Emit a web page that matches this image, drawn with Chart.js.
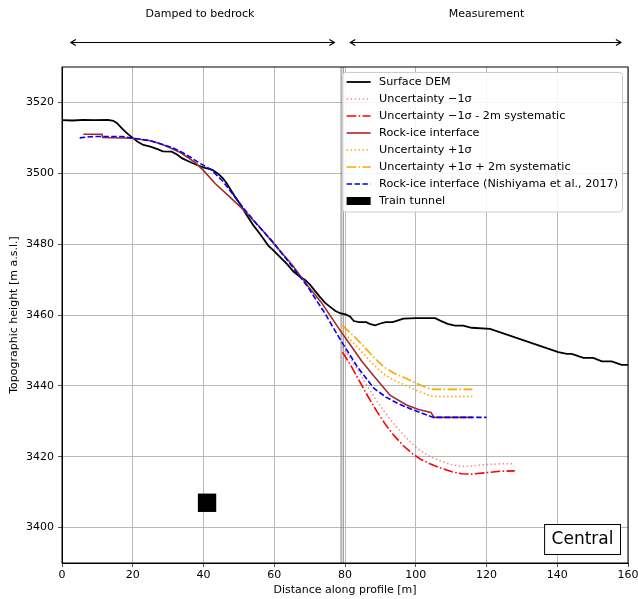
<!DOCTYPE html>
<html>
<head>
<meta charset="utf-8">
<script src="https://cdn.jsdelivr.net/npm/chart.js@4.4.0/dist/chart.umd.min.js"></script>
<style>
  body { margin: 0; background: #fff; overflow: hidden; }
  #wrap { width: 641px; height: 599px; position: relative; }
</style>
</head>
<body>
<div id="wrap"><canvas id="profileChart"></canvas></div>
<script>
const xTicks = [0, 20, 40, 60, 80, 100, 120, 140, 160];
const yTicks = [3400, 3420, 3440, 3460, 3480, 3500, 3520];

// Surface DEM
const demX = [0, 3, 6, 9, 13, 14.5, 15.5, 17, 18.5, 20, 21.5, 23, 25, 27, 28.5, 31, 32.5, 34, 36.2, 38.5, 40.4, 42.5, 44.2, 45.5, 46.6, 48.5, 50.3, 52.2, 54.1, 55.5, 56.9, 58.3, 59.7, 61.5, 63.5, 65.5, 67.3, 68.8, 70.1, 71.5, 72.9, 74.3, 75.8, 77.2, 78.6, 80.3, 81.4, 82.5, 84, 86, 87.2, 88.5, 90, 91.5, 93.5, 95, 96.5, 100, 105.5, 106.9, 109, 111.1, 113.4, 115.8, 121, 140.3, 142.7, 144.1, 147.4, 150.2, 152.6, 155.4, 158.2, 160];
const demY = [3515, 3514.9, 3515.1, 3515, 3515.1, 3514.8, 3514.2, 3512.6, 3511.2, 3510, 3508.8, 3508, 3507.5, 3506.8, 3506.2, 3506.1, 3505.3, 3504.2, 3503.2, 3502.2, 3501.5, 3501, 3499.8, 3498.6, 3497.1, 3494, 3491.4, 3488.2, 3485.3, 3483.5, 3481.6, 3479.6, 3478.3, 3476.5, 3474.5, 3472.2, 3470.8, 3469.8, 3468.6, 3466.8, 3465.1, 3463.5, 3462.3, 3461.2, 3460.5, 3460.1, 3459.6, 3458.3, 3458, 3458, 3457.4, 3457.1, 3457.6, 3458, 3458, 3458.5, 3459, 3459.1, 3459.1, 3458.4, 3457.5, 3457, 3457, 3456.4, 3456.1, 3449.5, 3449, 3449, 3447.9, 3447.9, 3446.9, 3446.9, 3445.9, 3445.9];

// Uncertainty -1 sigma
const minusX = [79.3, 81.5, 84, 86.5, 89, 91.5, 94, 96.5, 99, 101.5, 104, 107, 110, 113, 116, 120, 124, 128];
const minusY = [3451, 3447.8, 3443.8, 3439.6, 3435.7, 3432.2, 3429, 3426.2, 3423.6, 3421.6, 3420.1, 3418.8, 3417.8, 3417.2, 3417.4, 3417.8, 3418, 3418];

// Uncertainty -1 sigma - 2m systematic
const minusSysX = [79.3, 81.5, 84, 86.5, 89, 91.5, 94, 96.5, 99, 101.5, 104, 107, 110, 113, 116, 120, 124, 128];
const minusSysY = [3449.5, 3446, 3441.5, 3437, 3432.8, 3429, 3425.8, 3423.1, 3420.9, 3419.2, 3418, 3416.8, 3415.8, 3415.2, 3415.1, 3415.5, 3415.9, 3416];

// Rock-ice interface
const rockX = [6, 11.3, 11.5, 20, 25, 28.4, 31, 33.6, 37.6, 39.9, 43.3, 46.8, 51.4, 56, 60.6, 65.2, 69.8, 73.2, 76.1, 79, 81.3, 84.7, 88.2, 92.8, 97.4, 100.8, 104.3, 105.2, 116];
const rockY = [3511, 3511, 3510.1, 3509.9, 3509.2, 3508.1, 3507, 3505.8, 3503.1, 3500.9, 3497.1, 3493.9, 3489.6, 3484.7, 3479.3, 3474, 3467.8, 3463.7, 3459.4, 3455.1, 3451.9, 3447, 3442.7, 3437.3, 3434.6, 3433.3, 3432.5, 3431.1, 3431.1];

// Uncertainty +1 sigma
const plusX = [79.3, 82, 85, 88, 91, 94, 97, 100, 103, 105, 116];
const plusY = [3455.5, 3452.5, 3449.3, 3446, 3443.3, 3441.5, 3440.2, 3438.8, 3437.6, 3437, 3437];

// Uncertainty +1 sigma + 2m systematic
const plusSysX = [79.3, 82, 85, 88, 91, 94, 97, 100, 103, 105, 116];
const plusSysY = [3457, 3454.5, 3451.5, 3448.2, 3445.3, 3443.5, 3442.2, 3440.8, 3439.5, 3439, 3439];

// Rock-ice interface (Nishiyama et al., 2017)
const nishiX = [5, 8, 10, 17, 20, 25, 30.7, 33.6, 36.2, 39, 42.2, 45.6, 50.3, 55, 59.7, 64.5, 69.2, 74, 79, 83.6, 88.2, 91.6, 95, 99, 102, 105, 120];
const nishiY = [3510, 3510.3, 3510.4, 3510.4, 3509.9, 3509.2, 3507.4, 3506.1, 3504.6, 3502.8, 3501, 3497.6, 3491.4, 3485.7, 3480.5, 3474.4, 3468.3, 3461, 3452.5, 3445.2, 3439.3, 3436.8, 3435, 3433.3, 3432.2, 3431.1, 3431.1];

// Train tunnel
const tunnelX = [41];
const tunnelY = [3407];

const boundaryX = [78.9, 79.5];
const sectionLabels = ["Damped to bedrock", "Measurement"];
const sectionFrom = [2.5, 81.5];
const sectionTo = [77, 158];
const sectionTextX = [39, 120];
const panelName = "Central";

const FONT = "'DejaVu Sans', sans-serif";
const zip = (xs, ys) => xs.map((v, i) => ({ x: v, y: ys[i] }));

const DOT = [1.5, 2.5];
const DASH = [5.5, 2.4];
const DASHDOT = [9.6, 2.4, 1.5, 2.4];

const series = [
  { label: "Surface DEM", data: zip(demX, demY), borderColor: "#000000", borderDash: [], borderWidth: 1.8 },
  { label: "Uncertainty \u22121\u03c3", data: zip(minusX, minusY), borderColor: "rgba(255,0,0,0.45)", borderDash: DOT, borderWidth: 1.6 },
  { label: "Uncertainty \u22121\u03c3 - 2m systematic", data: zip(minusSysX, minusSysY), borderColor: "#ff0000", borderDash: DASHDOT, borderWidth: 1.6 },
  { label: "Rock-ice interface", data: zip(rockX, rockY), borderColor: "#a52a2a", borderDash: [], borderWidth: 1.6 },
  { label: "Uncertainty +1\u03c3", data: zip(plusX, plusY), borderColor: "#ffa500", borderDash: DOT, borderWidth: 1.6 },
  { label: "Uncertainty +1\u03c3 + 2m systematic", data: zip(plusSysX, plusSysY), borderColor: "#ffa500", borderDash: DASHDOT, borderWidth: 1.6 },
  { label: "Rock-ice interface (Nishiyama et al., 2017)", data: zip(nishiX, nishiY), borderColor: "#0000ff", borderDash: DASH, borderWidth: 1.6 },
];

const datasets = series.map((s, i) => ({
  type: "line",
  label: s.label,
  data: s.data,
  borderColor: s.borderColor,
  borderDash: s.borderDash,
  borderWidth: s.borderWidth,
  pointRadius: 0,
  tension: 0,
  fill: false,
  order: -i,
}));

datasets.push({
  type: "scatter",
  label: "Train tunnel",
  data: zip(tunnelX, tunnelY),
  pointStyle: "rect",
  pointRadius: 13,
  backgroundColor: "#000000",
  borderColor: "#000000",
  borderWidth: 0,
  order: -datasets.length,
});

const arrowLine = (ctx, x1, x2, y) => {
  ctx.beginPath();
  ctx.moveTo(x1, y);
  ctx.lineTo(x2, y);
  ctx.stroke();
  ctx.beginPath();
  ctx.moveTo(x1 + 5, y - 3); ctx.lineTo(x1, y); ctx.lineTo(x1 + 5, y + 3);
  ctx.moveTo(x2 - 5, y - 3); ctx.lineTo(x2, y); ctx.lineTo(x2 - 5, y + 3);
  ctx.stroke();
};

const extras = {
  id: "extras",
  beforeDatasetsDraw(chart) {
    const { ctx, chartArea, scales } = chart;
    ctx.save();
    ctx.strokeStyle = "#808080";
    ctx.lineWidth = 1;
    boundaryX.forEach((v) => {
      const px = scales.x.getPixelForValue(v);
      ctx.beginPath();
      ctx.moveTo(px, chartArea.top);
      ctx.lineTo(px, chartArea.bottom);
      ctx.stroke();
    });
    ctx.restore();
  },
  afterDatasetsDraw(chart) {
    const { ctx, chartArea } = chart;
    ctx.save();

    // legend
    ctx.font = "11.2px " + FONT;
    const ds = chart.data.datasets;
    const textW = Math.max(...ds.map((d) => ctx.measureText(d.label).width));
    const boxW = 4 + 24 + 8.5 + textW + 4.5;
    const rowH = 17;
    const boxH = rowH * ds.length + 3.5;
    const bx = chartArea.right - 5.5 - boxW;
    const by = chartArea.top + 5.5;
    ctx.fillStyle = "rgba(255,255,255,0.85)";
    ctx.strokeStyle = "#cccccc";
    ctx.lineWidth = 1;
    ctx.beginPath();
    ctx.roundRect(bx, by, boxW, boxH, 3);
    ctx.fill();
    ctx.stroke();
    ds.forEach((d, i) => {
      const cy = by + 9.5 + i * rowH;
      const lx = bx + 4;
      if (d.type === "scatter") {
        ctx.fillStyle = d.backgroundColor;
        ctx.fillRect(lx, cy - 4, 24, 8);
      } else {
        ctx.strokeStyle = d.borderColor;
        ctx.lineWidth = d.borderWidth;
        ctx.setLineDash(d.borderDash);
        ctx.beginPath();
        ctx.moveTo(lx, cy);
        ctx.lineTo(lx + 24, cy);
        ctx.stroke();
        ctx.setLineDash([]);
      }
      ctx.fillStyle = "#000";
      ctx.textAlign = "left";
      ctx.textBaseline = "middle";
      ctx.fillText(d.label, lx + 32.5, cy + 0.5);
    });

    // panel name box
    ctx.font = "17px " + FONT;
    const tw = ctx.measureText(panelName).width;
    const pw = tw + 14, ph = 30;
    const px = chartArea.right - 8 - pw;
    const py = chartArea.bottom - 9 - ph;
    ctx.fillStyle = "#fff";
    ctx.fillRect(px, py, pw, ph);
    ctx.strokeStyle = "#000";
    ctx.lineWidth = 1;
    ctx.strokeRect(px + 0.5, py + 0.5, pw, ph);
    ctx.fillStyle = "#000";
    ctx.textAlign = "center";
    ctx.textBaseline = "middle";
    ctx.fillText(panelName, px + pw / 2 + 0.5, py + ph / 2 + 1);

    // frame
    ctx.strokeStyle = "#000";
    ctx.lineWidth = 1;
    ctx.strokeRect(chartArea.left, chartArea.top, chartArea.right - chartArea.left, chartArea.bottom - chartArea.top);
    ctx.restore();
  },
  afterDraw(chart) {
    const { ctx, scales } = chart;
    ctx.save();
    ctx.strokeStyle = "#000";
    ctx.fillStyle = "#000";
    ctx.lineWidth = 1.2;
    ctx.font = "11px " + FONT;
    ctx.textAlign = "center";
    ctx.textBaseline = "middle";
    sectionLabels.forEach((t, i) => {
      arrowLine(ctx, scales.x.getPixelForValue(sectionFrom[i]), scales.x.getPixelForValue(sectionTo[i]), 42.5);
      ctx.fillText(t, scales.x.getPixelForValue(sectionTextX[i]), 14);
    });
    ctx.restore();
  },
};

const ctx = document.getElementById("profileChart").getContext("2d");
const profileChart = new Chart(ctx, {
  data: { datasets: datasets },
  plugins: [extras],
  options: {
    responsive: true,
    maintainAspectRatio: false,
    animation: false,
    layout: { padding: { top: 67, right: 10, left: 0, bottom: 0 } },
    plugins: {
      legend: { display: false },
      tooltip: { enabled: false },
    },
    scales: {
      x: {
        type: "linear",
        min: 0,
        max: 160,
        afterBuildTicks: (scale) => { scale.ticks = xTicks.map((v) => ({ value: v })); },
        afterFit: (scale) => { scale.height = 36; },
        ticks: { color: "#000", font: { family: FONT, size: 11 }, padding: 2, maxRotation: 0, callback: (v) => String(v) },
        grid: { color: "#b8b8b8", lineWidth: 1, tickLength: 4, tickColor: "#555" },
        border: { display: true, color: "#000", width: 1 },
        title: { display: true, text: "Distance along profile [m]", color: "#000", font: { family: FONT, size: 11 }, padding: { top: 0, bottom: 2 } },
      },
      y: {
        type: "linear",
        min: 3390,
        max: 3530,
        afterBuildTicks: (scale) => { scale.ticks = yTicks.map((v) => ({ value: v })); },
        afterFit: (scale) => { scale.width = 62; },
        ticks: { color: "#000", font: { family: FONT, size: 11 }, padding: 4, callback: (v) => String(v) },
        grid: { color: "#b8b8b8", lineWidth: 1, tickLength: 4, tickColor: "#555" },
        border: { display: true, color: "#000", width: 1 },
        title: { display: true, text: "Topographic height [m a.s.l.]", color: "#000", font: { family: FONT, size: 11 }, padding: { top: 8, bottom: 0 } },
      },
    },
  },
});
</script>
</body>
</html>
